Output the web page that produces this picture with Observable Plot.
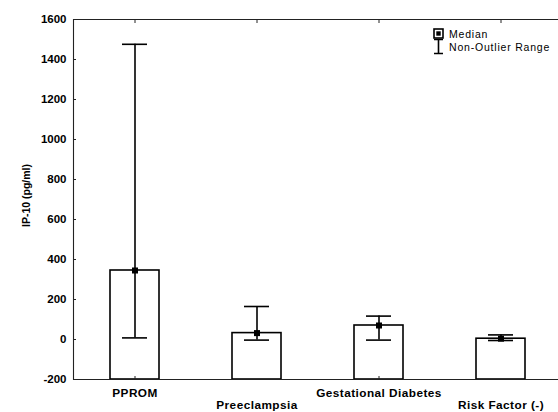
<!DOCTYPE html>
<html><head><meta charset="utf-8">
<script src="https://cdn.jsdelivr.net/npm/d3@7"></script>
<script src="https://cdn.jsdelivr.net/npm/@observablehq/plot@0.6"></script>
<style>
body{margin:0;background:#fff;}
#wrap{position:relative;width:558px;height:412px;overflow:hidden;font-family:"Liberation Sans",Arial,sans-serif;}
.leg{position:absolute;font-size:10.5px;letter-spacing:0.8px;color:#000;white-space:nowrap;line-height:12px;}
.legicon{position:absolute;}
</style></head><body><div id="wrap"></div>
<script>
// ---- data ----
const categories = ["PPROM", "Preeclampsia", "Gestational Diabetes", "Risk Factor (-)"];
const medians = [345, 32, 70, 4];
const lows = [8, -3, -3, -5];
const highs = [1476, 165, 117, 23];
const yDomain = [-200, 1600];
const yTicks = [-200, 0, 200, 400, 600, 800, 1000, 1200, 1400, 1600];
const yLabel = "IP-10 (pg/ml)";
const legendLabels = ["Median", "Non-Outlier Range"];

const data = categories.map((c, i) => ({cat: c, median: medians[i], low: lows[i], high: highs[i]}));
const font = "Liberation Sans, Arial, sans-serif";
const fmt = d => String(d);

const chart = Plot.plot({
  width: 558, height: 412,
  marginLeft: 73, marginRight: 0, marginTop: 19, marginBottom: 33,
  style: {fontFamily: font, background: "white", color: "black"},
  x: {domain: categories, range: [73, 561], paddingInner: 0.6, paddingOuter: 0.3, axis: null},
  y: {domain: yDomain, axis: null},
  marks: [
    Plot.barY(data, {x: "cat", y1: () => yDomain[0], y2: "median", fill: "white", stroke: "black", strokeWidth: 1.6}),
    Plot.ruleX(data, {x: "cat", y1: "low", y2: "high", stroke: "black", strokeWidth: 1.6}),
    Plot.tickY(data, {x: "cat", y: "low", inset: 12, stroke: "black", strokeWidth: 1.6}),
    Plot.tickY(data, {x: "cat", y: "high", inset: 12, stroke: "black", strokeWidth: 1.6}),
    Plot.dot(data, {x: "cat", y: "median", symbol: "square", r: 3.4, fill: "black"}),
    Plot.ruleY([yDomain[0], yDomain[1]], {stroke: "#222", strokeWidth: 1.1}),
    Plot.frame({anchor: "left", stroke: "#222", strokeWidth: 1.1}),
    Plot.axisY(yTicks, {anchor: "left", tickSize: -3, tickPadding: 10, tickFormat: fmt, fontWeight: "bold", fontSize: 11.5, label: null, stroke: "#222"}),
    Plot.axisX(categories.filter((d, i) => i % 2 === 0), {anchor: "bottom", tickSize: -3, tickPadding: 12, fontWeight: "bold", fontSize: 11.8, label: null, stroke: "#222"}),
    Plot.axisX(categories.filter((d, i) => i % 2 === 1), {anchor: "bottom", tickSize: 0, tickPadding: 21.5, fontWeight: "bold", fontSize: 11.8, label: null}),
    Plot.axisX(categories, {anchor: "top", tickSize: -3, tickFormat: () => "", label: null, stroke: "#222"}),
    Plot.text([yLabel], {frameAnchor: "left", textAnchor: "middle", rotate: -90, dx: -47, dy: -4, fontWeight: "bold", fontSize: 10.5})
  ]
});
chart.querySelectorAll('g[aria-label="x-axis tick label"]').forEach(g => g.setAttribute("letter-spacing", "0.45"));
const wrap = document.getElementById("wrap");
wrap.appendChild(chart);

// legend (inside plot, top right)
const ns = "http://www.w3.org/2000/svg";
function icon(left, top, w, h, inner) {
  const s = document.createElementNS(ns, "svg");
  s.setAttribute("width", w); s.setAttribute("height", h);
  s.setAttribute("class", "legicon");
  s.style.left = left + "px"; s.style.top = top + "px";
  s.innerHTML = inner;
  wrap.appendChild(s);
}
icon(433, 28, 11, 11, '<rect x="1" y="1" width="9" height="9" fill="white" stroke="black" stroke-width="1.6"/><rect x="3.3" y="3.3" width="4.4" height="4.4" fill="black"/>');
icon(433, 38, 11, 17, '<path d="M1,1.5H10M5.5,1.5V15.5M1,15.5H10" stroke="black" stroke-width="1.6" fill="none"/>');
legendLabels.forEach((t, i) => {
  const d = document.createElement("div");
  d.className = "leg";
  d.textContent = t;
  d.style.left = "449px";
  d.style.top = (28 + i * 13) + "px";
  wrap.appendChild(d);
});
</script></body></html>
